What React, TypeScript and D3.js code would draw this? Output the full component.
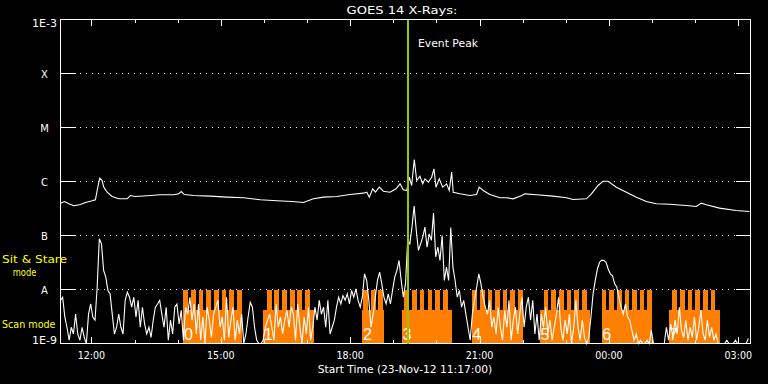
import React from "react";
import * as d3 from "d3";

// ---------- data ----------
const startTime = "2012-11-23 11:17";
const endTime = "2012-11-24 03:17";
const titleText = "GOES 14 X-Rays:";
const xAxisTitle = "Start Time (23-Nov-12 11:17:00)";
const eventPeakTime = "19:20";
const eventPeakLabel = "Event Peak";

const levelValues = [1e-9, 1e-8, 1e-7, 1e-6, 1e-5, 1e-4, 1e-3];
const levelLabels = ["1E-9", "A", "B", "C", "M", "X", "1E-3"];
const gridLevels = [1e-8, 1e-7, 1e-6, 1e-5, 1e-4];

// 0.5-4 A channel, one value every 3 minutes from the start time (W/m^2)
const shortCadenceMinutes = 3;
const shortFlux = [
  6.3e-9, 7.2e-9, 3.1e-9, 2.0e-9, 1.15e-9, 2.0e-9, 1.5e-9, 3.5e-9, 1.5e-9, 1.15e-9, 2.0e-9, 1.3e-9, 1.0e-9, 3.5e-9, 5.4e-9, 3.1e-9, 2.7e-9, 1.1e-8, 8.7e-8, 7.0e-8,
  2.25e-8, 1.7e-8, 9.6e-9, 8.3e-9, 3.5e-9, 1.5e-9, 2.0e-9, 3.5e-9, 2.0e-9, 1.5e-9, 6.3e-9, 8.9e-9, 7.2e-9, 4.7e-9, 7.2e-9, 3.1e-9, 6.3e-9, 2.0e-9, 4.7e-9, 2.3e-9,
  1.5e-9, 2.0e-9, 1.3e-9, 2.7e-9, 4.7e-9, 5.4e-9, 6.3e-9, 3.5e-9, 2.0e-9, 4.7e-9, 1.15e-9, 2.7e-9, 1.5e-9, 4.7e-9, 5.4e-9, 2.3e-9, 4.1e-9, 1.15e-9, 4.7e-9, 3.5e-9,
  7.2e-9, 2.7e-9, 5.4e-9, 1.5e-9, 5.4e-9, 1.15e-9, 3.1e-9, 1.0e-9, 4.7e-9, 2.7e-9, 1.3e-9, 3.5e-9, 4.7e-9, 6.3e-9, 2.0e-9, 3.1e-9, 1.15e-9, 7.2e-9, 1.3e-9, 2.7e-9,
  4.7e-9, 1.15e-9, 2.7e-9, 1.5e-9, 3.5e-9, 1.0e-9, 1.5e-9, 3.1e-9, 5.8e-9, 4.7e-9, 2.0e-9, 1.15e-9, 1.0e-9, 1.0e-9, 1.15e-9, 2.0e-9, 2.7e-9, 3.5e-9, 2.0e-9, 1.15e-9,
  5.4e-9, 2.0e-9, 3.1e-9, 1.5e-9, 2.7e-9, 4.1e-9, 2.0e-9, 4.7e-9,
  3.5e-9, 1.15e-9, 5.4e-9, 2.0e-9, 1.0e-9, 3.1e-9, 1.5e-9, 4.7e-9, 1.15e-9, 2.0e-9, 4.7e-9, 2.7e-9, 6.3e-9, 3.5e-9, 4.7e-9, 2.0e-9, 6.3e-9, 1.5e-9, 2.0e-9, 2.7e-9,
  4.7e-9, 7.2e-9, 5.4e-9, 7.7e-9, 6.3e-9, 8.3e-9, 5.4e-9, 9.6e-9, 7.2e-9, 1.03e-8, 6.3e-9, 4.7e-9, 7.2e-9, 1.95e-8, 1.47e-8, 6.3e-9, 2.0e-9, 3.5e-9, 7.2e-9, 1.47e-8,
  2.1e-8, 1.27e-8, 7.2e-9, 5.4e-9, 8.3e-9, 5.4e-9, 9.6e-9, 1.7e-8, 2.25e-8, 3.45e-8, 1.47e-8, 7.2e-9, 1.27e-8, 8.1e-8, 7.0e-8, 1.43e-7, 3.5e-7, 1.24e-7, 5.3e-8, 7.0e-8,
  9.3e-8, 1.43e-7, 6.1e-8, 1.07e-7, 8.1e-8, 2.6e-7, 4.0e-8, 6.1e-8, 3.45e-8, 1.0e-7, 1.47e-8, 2.6e-8, 1.47e-8, 1.4e-7, 2.6e-8, 1.47e-8, 7.2e-9, 9.6e-9, 4.7e-9, 6.3e-9,
  3.5e-9, 2.0e-9, 1.15e-9, 3.5e-9, 6.3e-9, 1.1e-8, 1.95e-8, 1.27e-8, 7.2e-9, 4.7e-9, 3.5e-9, 6.3e-9, 2.0e-9, 3.1e-9, 1.5e-9, 4.7e-9, 2.0e-9, 1.15e-9, 4.1e-9, 2.0e-9,
  6.3e-9, 1.15e-9, 2.7e-9, 4.7e-9, 1.5e-9, 3.5e-9,
  7.2e-9, 2.0e-9, 4.7e-9, 7.2e-9, 2.7e-9, 6.3e-9, 1.5e-9, 3.5e-9, 1.15e-9, 3.5e-9, 2.0e-9, 4.7e-9, 1.5e-9, 2.7e-9, 1.15e-9, 2.0e-9, 3.5e-9, 7.2e-9, 2.0e-9, 1.15e-9,
  2.7e-9, 1.5e-9, 3.5e-9, 1.0e-9, 2.0e-9, 6.3e-9, 2.0e-9, 1.15e-9, 2.7e-9, 1.3e-9, 1.0e-9, 1.3e-9, 3.1e-9, 8.3e-9, 1.47e-8, 2.4e-8, 3.2e-8, 3.5e-8, 3.45e-8, 3.2e-8,
  2.4e-8, 1.95e-8, 1.8e-8, 1.27e-8, 1.1e-8, 7.2e-9, 4.7e-9, 3.5e-9, 5.4e-9, 3.1e-9, 2.7e-9, 1.75e-9, 1.15e-9, 1.5e-9, 1.0e-9, 1.15e-9, 1.0e-9, 1.0e-9, 1.15e-9, 1.0e-9,
  1.75e-9, 1.0e-9, 1.0e-9, 1.0e-9, 1.0e-9, 1.0e-9, 1.0e-9, 2.0e-9, 1.15e-9, 2.3e-9, 1.3e-9, 2.7e-9, 1.5e-9, 4.7e-9, 1.75e-9, 1.3e-9, 2.7e-9, 1.15e-9, 2.0e-9, 1.3e-9,
  3.1e-9, 1.15e-9, 2.0e-9, 4.1e-9, 1.5e-9, 1.15e-9, 2.7e-9, 1.3e-9, 2.0e-9, 1.15e-9, 1.5e-9, 1.0e-9, 1.0e-9, 1.0e-9, 1.0e-9, 1.15e-9, 1.0e-9, 1.0e-9, 1.0e-9, 1.15e-9,
  1.0e-9, 1.0e-9, 1.0e-9, 1.0e-9, 1.0e-9, 1.24e-9,
];

// 1-8 A channel: minutes after start time, flux (W/m^2)
const longMinutes = [
  0, 5.6, 11.5, 18.5, 27.8, 34.7, 44.0, 48.6, 51.0, 54.6, 57.9, 60.2, 64.9, 71.8, 81.0, 92.7, 97.3, 104.2, 120.5, 138.9,
  157.4, 164.4, 168.1, 172.3, 185.2, 208.4, 231.6, 254.7, 277.9, 301.1, 322.3, 338.0, 351.9, 365.8, 384.4, 402.9, 421.4, 426.1, 429.7, 434.4,
  438.1, 443.6, 449.2, 458.5, 466.8, 472.4, 476.9, 481.7, 485.3, 488.6, 492.2, 495.6, 500.1, 503.9, 507.1, 511.7, 516.4, 519.6, 522.4, 527.0,
  531.7, 537.2, 540.9, 544.2, 546.4, 555.7, 569.6, 578.9, 582.5, 588.1, 597.4, 611.3, 620.6, 629.8, 641.9, 646.0, 662.3, 685.3, 704.0, 713.1,
  731.7, 738.7, 747.9, 754.8, 761.8, 773.4, 787.3, 801.2, 815.1, 829.0, 847.5, 870.7, 884.6, 891.5, 898.5, 916.9, 940.1, 958.6,
];
const longFlux = [
  3.97e-7, 4.26e-7, 3.86e-7, 3.55e-7, 3.75e-7, 4.08e-7, 4.39e-7, 4.59e-7, 6.81e-7, 1.15e-6, 1.04e-6, 7.85e-7, 6.34e-7, 5.28e-7, 4.78e-7, 4.78e-7, 5.5e-7, 5.28e-7, 5.45e-7, 5.67e-7,
  5.67e-7, 5.91e-7, 6.53e-7, 5.74e-7, 5.5e-7, 5.35e-7, 5.13e-7, 4.99e-7, 4.59e-7, 4.39e-7, 4.26e-7, 4.08e-7, 4.78e-7, 5.13e-7, 5.28e-7, 5.74e-7, 6.08e-7, 6.34e-7, 5.13e-7, 7.31e-7,
  6.34e-7, 7.85e-7, 6.62e-7, 6.34e-7, 7.31e-7, 9.06e-7, 7.01e-7, 6.81e-7, 1.2e-6, 8.43e-7, 2.55e-6, 1.04e-6, 1.25e-6, 9.06e-7, 1.12e-6, 9.7e-7, 1.2e-6, 1.72e-6, 7.85e-7, 1.12e-6,
  7.85e-7, 9.06e-7, 6.81e-7, 1.49e-6, 6.34e-7, 5.91e-7, 5.5e-7, 5.74e-7, 7.85e-7, 6.81e-7, 5.74e-7, 4.99e-7, 4.99e-7, 4.78e-7, 5.5e-7, 5.91e-7, 5.67e-7, 5.35e-7, 4.99e-7, 4.64e-7,
  4.78e-7, 5.91e-7, 8.43e-7, 1.01e-6, 1.01e-6, 7.85e-7, 6.34e-7, 5.13e-7, 4.26e-7, 3.86e-7, 3.8e-7, 3.59e-7, 3.44e-7, 3.97e-7, 3.7e-7, 3.21e-7, 2.9e-7, 2.78e-7,
];

// observing-mode blocks: scan base with sit & stare teeth
const blockLabels = ["0", "1", "2", "3", "4", "5", "6", "7"];
const blockStart = ["14:08", "15:59", "18:17", "19:12", "20:49", "22:24", "23:50", "01:23"];
const blockEnd = ["15:29", "17:10", "18:47", "20:21", "22:00", "23:34", "01:00", "02:34"];
const teethStart = ["14:08", "16:04", "18:18", "19:15", "20:50", "22:29", "23:50", "01:28"];
const teethEnd = ["15:29", "17:04", "18:46", "20:16", "22:00", "23:29", "01:00", "02:28"];
const teethCount = [8, 6, 3, 6, 7, 6, 7, 6];
const toothMinutes = 6.6;
const scanModeLevel = 4.1e-9;
const sitStareLevel = 1e-8;

// ---------- helpers ----------
const parseTime = d3.timeParse("%Y-%m-%d %H:%M");
const t0 = parseTime(startTime) as Date;
const t1 = parseTime(endTime) as Date;
const clock = (hm: string): Date => {
  const h = Number(hm.split(":")[0]);
  const day = h < 11 ? "2012-11-24" : "2012-11-23";
  return parseTime(`${day} ${hm}`) as Date;
};

const WHITE = "#ffffff";
const ORANGE = "#ff8000";
const GREEN = "#96c800";
const YELLOW = "#ffff00";
const FONT = "DejaVu Sans, Liberation Sans, sans-serif";

export default function App() {
  const W = 768;
  const H = 384;
  const left = 60.5, right = 750.5, top = 19.5, bottom = 343.5;

  const x = d3.scaleTime().domain([t0, t1]).range([left, right]);
  const y = d3.scaleLog().domain([1e-9, 1e-3]).range([bottom, top]).clamp(true);

  const shortPts: [Date, number][] = shortFlux.map((v, i) => [
    d3.timeMinute.offset(t0, i * shortCadenceMinutes),
    v,
  ]);
  const longPts: [Date, number][] = longFlux.map((v, i) => [
    new Date(t0.getTime() + longMinutes[i] * 60000),
    v,
  ]);
  const line = d3
    .line<[Date, number]>()
    .x((d) => x(d[0]))
    .y((d) => y(d[1]));

  const hours = d3.timeHour.range(d3.timeHour.ceil(t0), d3.timeMinute.offset(t1, 1));
  const fmt = d3.timeFormat("%H:%M");

  const blocks = blockLabels.map((label, b) => {
    const s = clock(blockStart[b]);
    const e = clock(blockEnd[b]);
    const ts = clock(teethStart[b]);
    const te = clock(teethEnd[b]);
    const n = teethCount[b];
    const span = (te.getTime() - ts.getTime()) / 60000;
    const period = n > 1 ? (span - toothMinutes) / (n - 1) : 0;
    const teeth = d3.range(n).map((k) => {
      const a = new Date(ts.getTime() + k * period * 60000);
      const z = new Date(a.getTime() + toothMinutes * 60000);
      return [a, z] as [Date, Date];
    });
    return { label, s, e, teeth };
  });

  const peakX = Math.round(x(clock(eventPeakTime)));

  return (
    <svg
      width={W}
      height={H}
      style={{ position: "fixed", left: 0, top: 0, background: "#000", display: "block" }}
    >
      <rect x={0} y={0} width={W} height={H} fill="#000" />

      {/* mode blocks */}
      <g shapeRendering="crispEdges" fill={ORANGE}>
        {blocks.map((b, i) => (
          <g key={i}>
            <rect
              x={x(b.s)}
              y={y(scanModeLevel)}
              width={x(b.e) - x(b.s)}
              height={y(1e-9) - y(scanModeLevel)}
            />
            {b.teeth.map((t, k) => (
              <rect
                key={k}
                x={x(t[0])}
                y={y(sitStareLevel)}
                width={x(t[1]) - x(t[0])}
                height={y(1e-9) - y(sitStareLevel)}
              />
            ))}
          </g>
        ))}
      </g>
      {blocks.map((b, i) => (
        <text
          key={i}
          x={x(b.s) + 0.5}
          y={339.5}
          fill={WHITE}
          fontFamily="Liberation Sans, sans-serif"
          fontSize={16}
        >
          {b.label}
        </text>
      ))}

      {/* dotted grid */}
      {gridLevels.map((v, i) => (
        <line
          key={i}
          x1={left + 1}
          x2={right - 1}
          y1={y(v)}
          y2={y(v)}
          stroke={WHITE}
          strokeWidth={1}
          strokeDasharray="1 5"
          shapeRendering="crispEdges"
        />
      ))}

      {/* curves */}
      <path d={line(longPts) || ""} fill="none" stroke={WHITE} strokeWidth={1.1} />
      <path d={line(shortPts) || ""} fill="none" stroke={WHITE} strokeWidth={1.1} />

      {/* frame and ticks */}
      <g stroke={WHITE} strokeWidth={1} shapeRendering="crispEdges">
        <rect x={left} y={top} width={right - left} height={bottom - top} fill="none" />
        {levelValues.map((v, i) => (
          <g key={i}>
            <line x1={left} x2={left + 15} y1={y(v)} y2={y(v)} />
            <line x1={right - 15} x2={right} y1={y(v)} y2={y(v)} />
          </g>
        ))}
        {hours.map((h, i) => {
          const major = h.getHours() % 3 === 0;
          const len = major ? 6.5 : 3.5;
          const xx = Math.round(x(h)) + 0.5;
          return (
            <g key={i}>
              <line x1={xx} x2={xx} y1={top} y2={top + len} />
              <line x1={xx} x2={xx} y1={bottom} y2={bottom - len} />
            </g>
          );
        })}
      </g>

      {/* event peak */}
      <rect x={peakX - 1} y={top} width={2} height={bottom - top + 0.5} fill={GREEN} shapeRendering="crispEdges" />
      <text x={418} y={47} fill={WHITE} fontFamily={FONT} fontSize={10} textLength={60} lengthAdjust="spacingAndGlyphs">
        {eventPeakLabel}
      </text>

      {/* y labels */}
      {levelValues.map((v, i) => {
        const dy = i === levelValues.length - 1 ? 7.5 : i === 0 ? 0.5 : 4.7;
        const long = levelLabels[i].length > 1;
        return (
          <text
            key={i}
            x={44.5}
            y={y(v) + dy}
            fill={WHITE}
            textAnchor="middle"
            fontFamily={FONT}
            fontSize={10}
            {...(long ? { textLength: 25, lengthAdjust: "spacingAndGlyphs" } : {})}
          >
            {levelLabels[i]}
          </text>
        );
      })}

      {/* x labels */}
      {hours
        .filter((h) => h.getHours() % 3 === 0)
        .map((h, i) => (
          <text
            key={i}
            x={x(h)}
            y={358.5}
            fill={WHITE}
            textAnchor="middle"
            fontFamily={FONT}
            fontSize={11}
            textLength={27.5}
            lengthAdjust="spacingAndGlyphs"
          >
            {fmt(h)}
          </text>
        ))}

      <text x={402} y={13.5} fill={WHITE} textAnchor="middle" fontFamily={FONT} fontSize={10.5} textLength={111} lengthAdjust="spacingAndGlyphs">
        {titleText}
      </text>
      <text x={405} y={372.5} fill={WHITE} textAnchor="middle" fontFamily={FONT} fontSize={10.5} textLength={174.5} lengthAdjust="spacingAndGlyphs">
        {xAxisTitle}
      </text>

      {/* mode legend */}
      <text x={2} y={262.5} fill={YELLOW} fontFamily={FONT} fontSize={10.5} textLength={65} lengthAdjust="spacingAndGlyphs">
        Sit &amp; Stare
      </text>
      <text x={24.5} y={276} fill={YELLOW} textAnchor="middle" fontFamily={FONT} fontSize={10.5} textLength={23.5} lengthAdjust="spacingAndGlyphs">
        mode
      </text>
      <text x={2} y={327.5} fill={YELLOW} fontFamily={FONT} fontSize={10.5} textLength={53.5} lengthAdjust="spacingAndGlyphs">
        Scan mode
      </text>
    </svg>
  );
}
